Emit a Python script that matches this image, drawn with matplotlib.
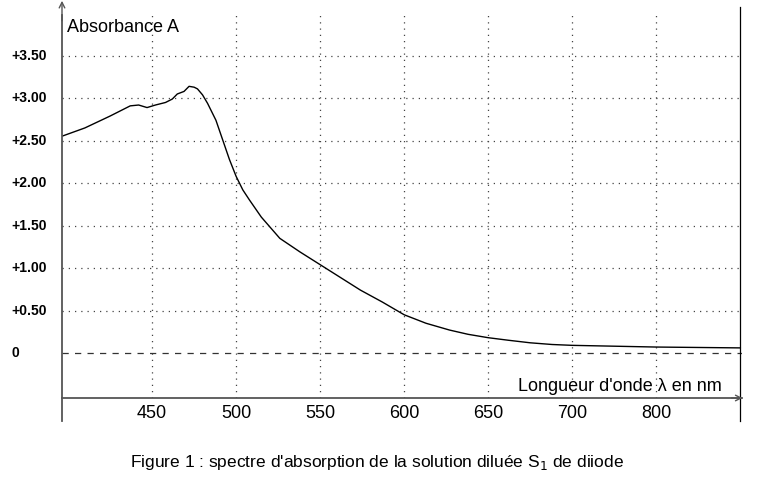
import matplotlib
matplotlib.use("Agg")
import matplotlib.pyplot as plt

wl = [396, 410, 425, 437, 442, 447, 452, 458, 462, 465, 469, 472, 475, 477, 480, 483, 488, 492, 496, 500, 504, 508, 515, 526, 538, 550, 562, 574, 587, 600, 613, 627, 638, 650, 662, 675, 688, 700, 725, 750, 775, 800]
absb = [2.55, 2.65, 2.79, 2.91, 2.92, 2.89, 2.92, 2.95, 2.99, 3.05, 3.08, 3.14, 3.13, 3.11, 3.04, 2.94, 2.74, 2.51, 2.28, 2.08, 1.92, 1.80, 1.60, 1.35, 1.19, 1.04, 0.89, 0.74, 0.60, 0.45, 0.35, 0.27, 0.22, 0.18, 0.15, 0.12, 0.10, 0.09, 0.08, 0.07, 0.065, 0.06]
xtick_pos = [450, 500, 550, 600, 650, 700, 750]
xtick_labels = ["450", "500", "550", "600", "650", "700", "800"]
ytick_vals = [0, 0.5, 1.0, 1.5, 2.0, 2.5, 3.0, 3.5]
ytick_labels = ["0", "+0.50", "+1.00", "+1.50", "+2.00", "+2.50", "+3.00", "+3.50"]

plt.rcParams['font.family'] = ['Liberation Sans', 'DejaVu Sans']
fig = plt.figure(figsize=(7.6, 4.8), dpi=100)
ax = fig.add_axes([62/760, 1-398/480, 680/760, 383/480])
x0, x1 = 396.4, 801
y0, y1 = -0.53, 3.98
ax.set_xlim(x0, x1); ax.set_ylim(y0, y1)
for s in ax.spines.values():
    s.set_visible(False)
ax.set_xticks([]); ax.set_yticks([])

for v in ytick_vals[1:]:
    ax.axhline(v, color='#444', ls=(0, (1, 4)), lw=0.9)
for p in xtick_pos:
    ax.axvline(p, color='#444', ls=(0, (1, 4)), lw=0.9)
ax.axhline(0, color='#333', ls=(0, (5, 5)), lw=0.9)

ax.plot(wl, absb, color='black', lw=1.0)

ax.plot([x0, x0], [-0.8, y1], color='#555', lw=1.3, clip_on=False)
ax.plot([x1-1, x1-1], [-0.8, y1 + 0.1], color='black', lw=0.9, clip_on=False)
ax.plot([x0, x1], [y0, y0], color='#555', lw=1.3, clip_on=False)
ax.annotate('', xy=(x0, y1 + 0.2), xytext=(x0, y1 - 0.1), annotation_clip=False,
            arrowprops=dict(arrowstyle='->', color='#555', lw=1.0))
ax.annotate('', xy=(x1 + 2, y0), xytext=(x1 - 8, y0), annotation_clip=False,
            arrowprops=dict(arrowstyle='->', color='#555', lw=1.0))

ax.text(x0 + 3, y1 - 0.05, "Absorbance A", fontsize=13, va='top', ha='left')
ax.text(x1 - 12, y0 + 0.03, "Longueur d'onde λ en nm", fontsize=13, va='bottom', ha='right')

for v, l in zip(ytick_vals, ytick_labels):
    ax.text(-0.075, v, l, transform=ax.get_yaxis_transform(), fontsize=10,
            fontweight='bold', ha='left', va='center')
for p, l in zip(xtick_pos, xtick_labels):
    ax.text(p, y0 - 0.08, l, fontsize=13, ha='center', va='top')

fig.text(377/760, 1-462/480, "Figure 1 : spectre d'absorption de la solution diluée S$_1$ de diiode",
         fontsize=12.5, ha='center', va='center')
fig.savefig("out.png", dpi=100)
